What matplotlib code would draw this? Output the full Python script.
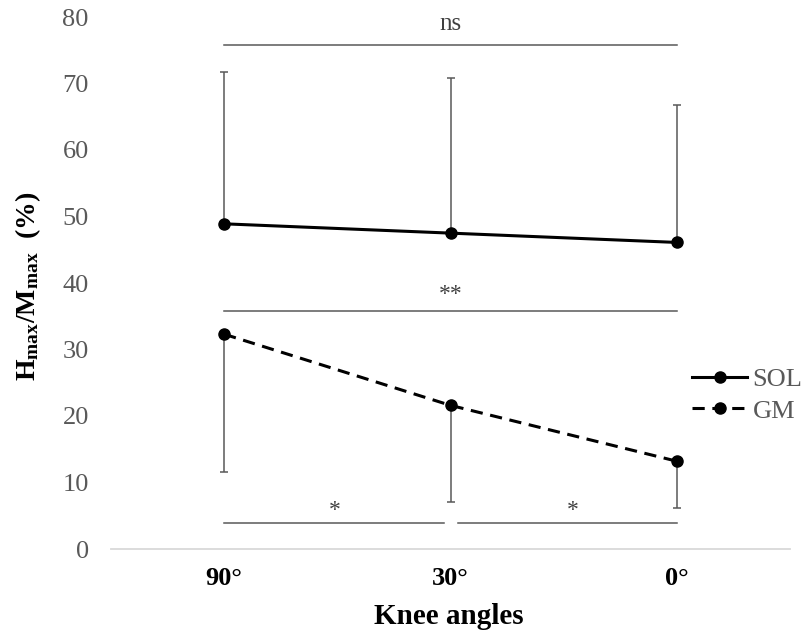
import numpy as np
import matplotlib
matplotlib.use("Agg")
import matplotlib.pyplot as plt

plt.rcParams['font.family'] = ['Liberation Serif', 'DejaVu Serif']
plt.rcParams['mathtext.fontset'] = 'custom'
plt.rcParams['mathtext.rm'] = 'Liberation Serif'
plt.rcParams['mathtext.bf'] = 'Liberation Serif:bold'

angles = ["90°", "30°", "0°"]
sol_mean = [48.9, 47.5, 46.1]
sol_upper = [71.7, 70.9, 66.7]
gm_mean = [32.3, 21.6, 13.2]
gm_lower = [11.6, 7.0, 6.2]

grey = "#595959"
x = np.arange(len(angles))

fig = plt.figure(figsize=(8.02, 6.3), dpi=100)
ax = fig.add_axes([111/802, 1-549/630, 679/802, 532/630])

sol_err = [np.zeros(3), np.array(sol_upper) - np.array(sol_mean)]
gm_err = [np.array(gm_mean) - np.array(gm_lower), np.zeros(3)]

ax.errorbar(x, sol_mean, yerr=sol_err, fmt='none', ecolor=grey, elinewidth=1.1,
            capsize=3, capthick=1.1, zorder=2)
ax.errorbar(x, gm_mean, yerr=gm_err, fmt='none', ecolor=grey, elinewidth=1.1,
            capsize=3, capthick=1.1, zorder=2)

ax.plot(x, sol_mean, color='black', lw=2.2, marker='o', ms=8, label='SOL', zorder=3)
ax.plot(x, gm_mean, color='black', lw=2.2, ls=(0, (4, 2.5)), marker='o', ms=8,
        label='GM', zorder=3)

# significance bars
ax.plot([0, 2], [75.8, 75.8], color=grey, lw=1.1)
ax.text(1, 78.0, "ns", ha='center', va='baseline', fontsize=18, color='#404040')
ax.plot([0, 2], [35.8, 35.8], color=grey, lw=1.1)
ax.text(1, 37.4, "**", ha='center', va='baseline', fontsize=17, color='#404040')
ax.plot([0, 0.97], [3.95, 3.95], color=grey, lw=1.1)
ax.plot([1.035, 2], [3.95, 3.95], color=grey, lw=1.1)
ax.text(0.49, 4.9, "*", ha='center', va='baseline', fontsize=17, color='#404040')
ax.text(1.54, 4.9, "*", ha='center', va='baseline', fontsize=17, color='#404040')

ax.set_xlim(-0.5, 2.5)
ax.set_ylim(0, 80)
ax.set_yticks(np.arange(0, 81, 10))
ax.set_xticks(x)
ax.set_xticklabels(angles, fontsize=19, fontweight='bold')
ax.tick_params(axis='y', length=0, pad=16, labelsize=19, labelcolor=grey)
ax.tick_params(axis='x', length=0, pad=13)

for s in ['top', 'right', 'left']:
    ax.spines[s].set_visible(False)
ax.spines['bottom'].set_color('#d9d9d9')
ax.spines['bottom'].set_linewidth(1.3)

ax.set_xlabel("Knee angles", fontsize=21, fontweight='bold')
ax.xaxis.set_label_coords((449-111)/679, (549-616)/532)
ax.xaxis.label.set_va('center')
ax.set_ylabel(r"$\mathbf{H_{max}/M_{max}}$  $\mathbf{(\%)}$", fontsize=20)
ax.yaxis.set_label_coords((28-111)/679, (549-286)/532)
ax.yaxis.label.set_va('center')

leg = ax.legend(loc='center left', bbox_to_anchor=(692/802, 1-395/630),
                bbox_transform=fig.transFigure, frameon=False, fontsize=19,
                handlelength=2.1, handletextpad=0.2, labelspacing=0.32,
                borderpad=0, borderaxespad=0)
for t in leg.get_texts():
    t.set_color(grey)

fig.savefig("out.png", dpi=100)
